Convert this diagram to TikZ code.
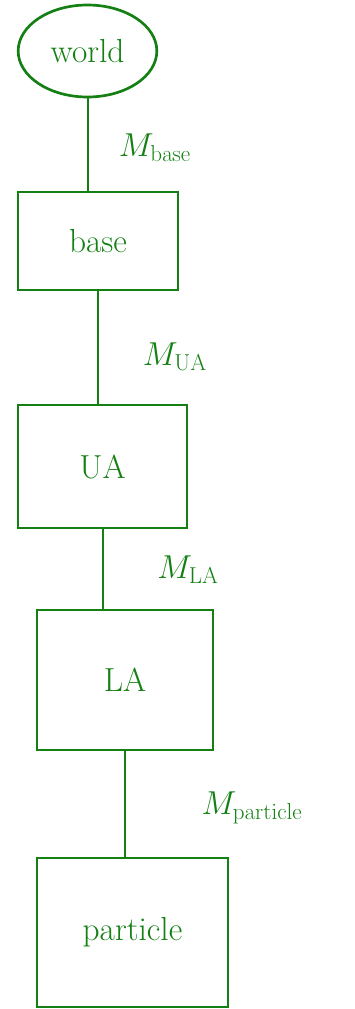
\documentclass[tikz,border=0pt]{standalone}
\usetikzlibrary{shapes.geometric}
\definecolor{pen}{RGB}{20,128,20}

\begin{document}
\begin{tikzpicture}[x=0.75pt,y=0.75pt,yscale=-1,xscale=1,
  frame/.style={draw=pen,line width=1.5,rectangle,inner sep=0pt,font=\fontsize{25}{27}\selectfont,text=pen},
  blob/.style={draw=pen,line width=2,ellipse,inner sep=0pt,font=\fontsize{25}{27}\selectfont,text=pen},
  link/.style={draw=pen,line width=1.5},
  tag/.style={anchor=center,inner sep=0.75pt,font=\fontsize{25}{27}\selectfont,text=pen}]
\useasboundingbox (0,0) rectangle (354,1009);

%Shape: Blob
\node [blob,minimum width=104pt,minimum height=69pt] (world) at (87.5,51) {world};
%Shape: Boxes
\node [frame,minimum width=120pt,minimum height=73.5pt] (base) at (98,241) {base};
\node [frame,minimum width=127pt,minimum height=92pt] (ua) at (102.5,466.5) {UA};
\node [frame,minimum width=132pt,minimum height=105pt] (la) at (125,680) {LA};
\node [frame,minimum width=143pt,minimum height=112pt] (particle) at (132.5,932.5) {particle};

%Straight Lines
\draw [link] (world.south) -- (world.south |- base.north);
\draw [link] (base.south) -- (base.south |- ua.north);
\draw [link] (ua.south) -- (ua.south |- la.north);
\draw [link] (la.south) -- (la.south |- particle.north);

% Text Node
\node [tag] (mbase) at (155,148) {$M_{\mathrm{base}}$};
% Text Node
\node [tag] (mua) at (175,357) {$M_{\mathrm{UA}}$};
% Text Node
\node [tag] (mla) at (188,570) {$M_{\mathrm{LA}}$};
% Text Node
\node [tag] (mparticle) at (252,808) {$M_{\mathrm{particle}}$};

\end{tikzpicture}
\end{document}
